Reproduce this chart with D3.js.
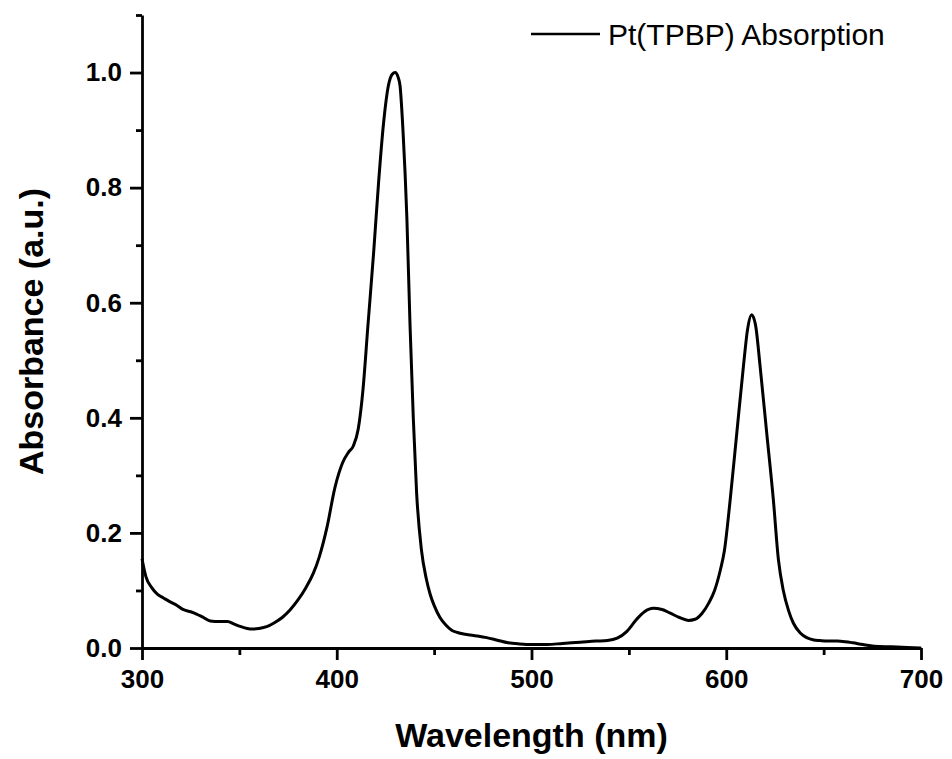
<!DOCTYPE html>
<html>
<head>
<meta charset="utf-8">
<script src="https://cdn.jsdelivr.net/npm/d3@7"></script>
<style>
  body { margin: 0; background: #fff; }
  svg { display: block; font-family: "Liberation Sans", Arial, sans-serif; }
</style>
</head>
<body>
<div id="chart"></div>
<script>
// Pt(TPBP) absorption spectrum
const wavelength = [300, 302, 305, 308, 311, 314, 318, 321, 325, 328, 331, 335, 340, 344, 347, 350, 354, 357, 360, 364,
  368, 372, 376, 380, 384, 388, 391, 395, 399, 403, 406, 408.5, 411, 413.5, 416, 419, 421.5, 424, 426.5, 428.5,
  430, 431.5, 432.5, 434, 436, 437.6, 439.3, 441, 443.5, 446, 448, 450, 453, 456, 459, 462, 466, 472, 477, 482,
  488, 494, 500, 508, 516, 525, 533, 539, 544, 549, 554, 558, 562.5, 567, 571, 576, 580.5, 584, 587.5, 591,
  594, 597, 599, 602, 605.4, 608.8, 611, 613, 615, 617.4, 620.8, 624.2, 626.8, 629.3, 632, 634.5, 638, 641.3, 645, 648,
  652, 657, 661, 665, 670, 676, 685, 693, 700];
const absorbance = [0.155, 0.124, 0.105, 0.093, 0.087, 0.081, 0.074, 0.067, 0.063, 0.059, 0.054, 0.047, 0.046, 0.046, 0.042, 0.038, 0.034, 0.033, 0.034, 0.037,
  0.044, 0.053, 0.066, 0.083, 0.104, 0.13, 0.158, 0.21, 0.278, 0.322, 0.34, 0.351, 0.38, 0.45, 0.56, 0.69, 0.81, 0.911, 0.977, 0.997,
  1.0, 0.992, 0.977, 0.9, 0.748, 0.564, 0.4, 0.27, 0.17, 0.12, 0.093, 0.074, 0.053, 0.04, 0.031, 0.027, 0.024, 0.021, 0.018, 0.014,
  0.009, 0.007, 0.006, 0.006, 0.008, 0.010, 0.012, 0.013, 0.017, 0.029, 0.05, 0.063, 0.069, 0.067, 0.061, 0.053, 0.048, 0.05, 0.06, 0.078,
  0.1, 0.136, 0.168, 0.257, 0.373, 0.489, 0.555, 0.579, 0.562, 0.489, 0.373, 0.257, 0.153, 0.1, 0.065, 0.043, 0.026, 0.018, 0.014, 0.013,
  0.012, 0.012, 0.011, 0.009, 0.006, 0.003, 0.002, 0.001, 0.0];

const xMajor = [300, 400, 500, 600, 700];
const xMinor = [350, 450, 550, 650];
const yMajor = [0.0, 0.2, 0.4, 0.6, 0.8, 1.0];
const yMinor = [0.1, 0.3, 0.5, 0.7, 0.9, 1.1];
const seriesName = "Pt(TPBP) Absorption";

const width = 952, height = 759;
const margin = {top: 15, right: 31, bottom: 111, left: 142};

const svg = d3.select("#chart").append("svg")
  .attr("width", width)
  .attr("height", height);

const x = d3.scaleLinear().domain([300, 700]).range([margin.left, width - margin.right]);
const y = d3.scaleLinear().domain([0, 1.1]).range([height - margin.bottom, margin.top]);

const data = wavelength.map((w, i) => ({w: w, a: absorbance[i]}));

// x axis: major ticks with labels, minor ticks without
svg.append("g")
  .attr("transform", `translate(0,${y(0)})`)
  .call(d3.axisBottom(x).tickValues(xMajor).tickSize(12).tickPadding(10).tickSizeOuter(0).tickFormat(d3.format("d")));
svg.append("g")
  .attr("transform", `translate(0,${y(0)})`)
  .call(d3.axisBottom(x).tickValues(xMinor).tickSize(7).tickSizeOuter(0).tickFormat(""))
  .select(".domain").remove();

// y axis
svg.append("g")
  .attr("transform", `translate(${x(300)},0)`)
  .call(d3.axisLeft(y).tickValues(yMajor).tickSize(12).tickPadding(8).tickSizeOuter(0).tickFormat(d3.format(".1f")));
svg.append("g")
  .attr("transform", `translate(${x(300)},0)`)
  .call(d3.axisLeft(y).tickValues(yMinor).tickSize(6).tickSizeOuter(0).tickFormat(""))
  .select(".domain").remove();

svg.selectAll(".domain, .tick line")
  .attr("stroke", "#000")
  .attr("stroke-width", 2.8);

svg.selectAll(".tick text")
  .attr("fill", "#000")
  .style("font-size", "26px")
  .style("font-weight", "bold");

// the spectrum
const line = d3.line()
  .x(d => x(d.w))
  .y(d => y(d.a))
  .curve(d3.curveMonotoneX);

svg.append("path")
  .datum(data)
  .attr("fill", "none")
  .attr("stroke", "#000")
  .attr("stroke-width", 3)
  .attr("stroke-linejoin", "round")
  .attr("d", line);

// axis titles
svg.append("text")
  .attr("x", (x(300) + x(700)) / 2)
  .attr("y", 747)
  .attr("text-anchor", "middle")
  .style("font-size", "34px")
  .style("font-weight", "bold")
  .text("Wavelength (nm)");

svg.append("text")
  .attr("transform", `translate(43,${(y(0) + y(1.1)) / 2}) rotate(-90)`)
  .attr("text-anchor", "middle")
  .style("font-size", "34px")
  .style("font-weight", "bold")
  .text("Absorbance (a.u.)");

// legend
const legend = svg.append("g").attr("transform", "translate(531,34)");
legend.append("line")
  .attr("x1", 0).attr("x2", 69)
  .attr("stroke", "#000")
  .attr("stroke-width", 2.5);
legend.append("text")
  .attr("x", 77)
  .attr("y", 11)
  .style("font-size", "30px")
  .text(seriesName);
</script>
</body>
</html>
